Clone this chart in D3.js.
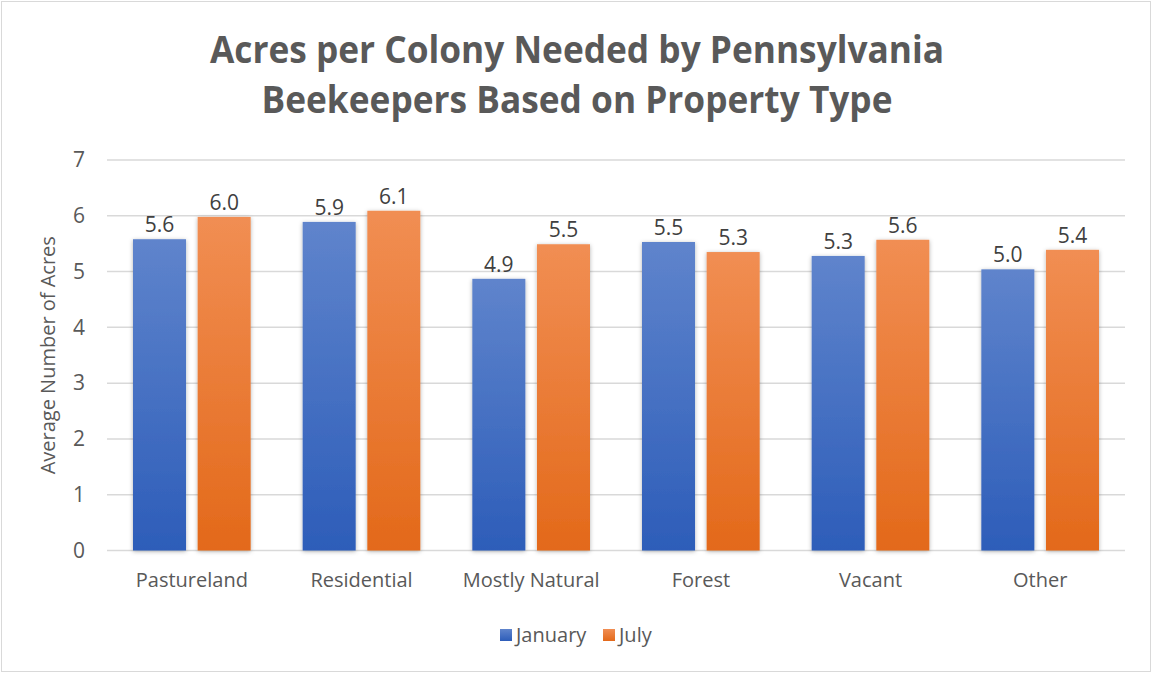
<!DOCTYPE html>
<html>
<head>
<meta charset="utf-8">
<script src="https://cdn.jsdelivr.net/npm/d3@7"></script>
<style>
  body { margin: 0; background: #fff; }
  svg text { font-family: "Open Sans", "Noto Sans", sans-serif; }
</style>
</head>
<body>
<div id="chart"></div>
<script>
// Chart data
const categories = ["Pastureland", "Residential", "Mostly Natural", "Forest", "Vacant", "Other"];
const seriesNames = ["January", "July"];
const january = [5.58, 5.89, 4.87, 5.53, 5.28, 5.04];
const july = [5.98, 6.09, 5.49, 5.35, 5.57, 5.39];
const yTicks = [0, 1, 2, 3, 4, 5, 6, 7];
const titleLines = ["Acres per Colony Needed by Pennsylvania", "Beekeepers Based on Property Type"];
const yTitle = "Average Number of Acres";

const width = 1154, height = 674;
const plot = { left: 107, right: 1125, top: 160, bottom: 550.5 };

const svg = d3.select("#chart").append("svg")
    .attr("width", width)
    .attr("height", height);

const defs = svg.append("defs");

// gradients for the bars
const gradColors = {
    January: ["#5f84cc", "#2d5db9"],
    July: ["#f18e53", "#e3691a"]
};
seriesNames.forEach(name => {
    const g = defs.append("linearGradient")
        .attr("id", "grad-" + name)
        .attr("x1", 0).attr("y1", 0).attr("x2", 0).attr("y2", 1);
    g.append("stop").attr("offset", "0%").attr("stop-color", gradColors[name][0]);
    g.append("stop").attr("offset", "100%").attr("stop-color", gradColors[name][1]);
});

const shadow = defs.append("filter").attr("id", "shadow")
    .attr("x", "-20%").attr("y", "-10%").attr("width", "140%").attr("height", "120%");
shadow.append("feDropShadow")
    .attr("dx", 0).attr("dy", 1).attr("stdDeviation", 2)
    .attr("flood-color", "#000").attr("flood-opacity", 0.3);

// outer border
svg.append("rect")
    .attr("x", 1.5).attr("y", 1.5)
    .attr("width", width - 5).attr("height", height - 4)
    .attr("fill", "#fff")
    .attr("stroke", "#d9d9d9")
    .attr("stroke-width", 1);

// Title
const title = svg.append("g");
const titleWidths = [734, 631];
titleLines.forEach((line, i) => {
    const t = title.append("text")
        .attr("x", 577)
        .attr("y", 63 + i * 50)
        .attr("text-anchor", "middle")
        .style("font-family", "'Liberation Sans Narrow', 'Open Sans', sans-serif")
        .style("font-weight", "bold")
        .style("font-size", "38px")
        .attr("fill", "#595959")
        .text(line);
    const w = t.node().getComputedTextLength();
    if (Math.abs(w - titleWidths[i]) > 10) {
        t.attr("textLength", titleWidths[i]).attr("lengthAdjust", "spacingAndGlyphs");
    }
});

// Scales
const x0 = d3.scaleBand()
    .domain(categories)
    .range([plot.left, plot.right]);

const groupInset = 26;
const x1 = d3.scaleBand()
    .domain(seriesNames)
    .range([groupInset, x0.bandwidth() - groupInset])
    .paddingInner(0.18);

const y = d3.scaleLinear()
    .domain([0, 7])
    .range([plot.bottom, plot.top]);

// Gridlines
svg.append("g")
    .selectAll("line")
    .data(yTicks)
    .join("line")
    .attr("x1", plot.left)
    .attr("x2", plot.right)
    .attr("y1", d => y(d))
    .attr("y2", d => y(d))
    .attr("stroke", "#d9d9d9")
    .attr("stroke-width", 1.5);

// Y axis labels
const yAxis = svg.append("g")
    .attr("transform", `translate(${plot.left - 22},0)`)
    .call(d3.axisLeft(y).tickValues(yTicks).tickSize(0).tickPadding(0).tickFormat(d3.format("d")));
yAxis.select(".domain").remove();
yAxis.selectAll("text")
    .style("font-size", "21px")
    .attr("fill", "#595959");

// Y title
svg.append("text")
    .attr("transform", `translate(55, ${(plot.top + plot.bottom) / 2}) rotate(-90)`)
    .attr("text-anchor", "middle")
    .style("font-size", "20px")
    .attr("fill", "#595959")
    .text(yTitle);

// Bars
const rows = categories.map((c, i) => ({
    category: c,
    values: [
        { series: "January", value: january[i] },
        { series: "July", value: july[i] }
    ]
}));

const groups = svg.append("g")
    .selectAll("g")
    .data(rows)
    .join("g")
    .attr("transform", d => `translate(${x0(d.category)},0)`);

groups.selectAll("rect")
    .data(d => d.values)
    .join("rect")
    .attr("x", d => x1(d.series))
    .attr("y", d => y(d.value))
    .attr("width", x1.bandwidth())
    .attr("height", d => y(0) - y(d.value))
    .attr("fill", d => `url(#grad-${d.series})`)
    .attr("filter", "url(#shadow)");

groups.selectAll("text.value")
    .data(d => d.values)
    .join("text")
    .attr("class", "value")
    .attr("x", d => x1(d.series) + x1.bandwidth() / 2)
    .attr("y", d => y(d.value) - 7)
    .attr("text-anchor", "middle")
    .style("font-size", "21px")
    .attr("fill", "#404040")
    .text(d => d3.format(".1f")(d.value));

// X axis category labels
const xAxis = svg.append("g")
    .attr("transform", `translate(0,${plot.bottom})`)
    .call(d3.axisBottom(x0).tickSize(0).tickPadding(22));
xAxis.select(".domain").remove();
xAxis.selectAll("text")
    .style("font-size", "20px")
    .attr("fill", "#595959");

// Legend
const legend = svg.append("g").attr("transform", "translate(0,635)");
const legendX = [500, 603];
seriesNames.forEach((name, i) => {
    const item = legend.append("g").attr("transform", `translate(${legendX[i]},0)`);
    item.append("rect")
        .attr("x", 0).attr("y", -6)
        .attr("width", 12).attr("height", 12)
        .attr("fill", `url(#grad-${name})`);
    item.append("text")
        .attr("x", 16).attr("y", 0)
        .attr("dy", "0.35em")
        .style("font-size", "20px")
        .attr("fill", "#595959")
        .text(name);
});
</script>
</body>
</html>
